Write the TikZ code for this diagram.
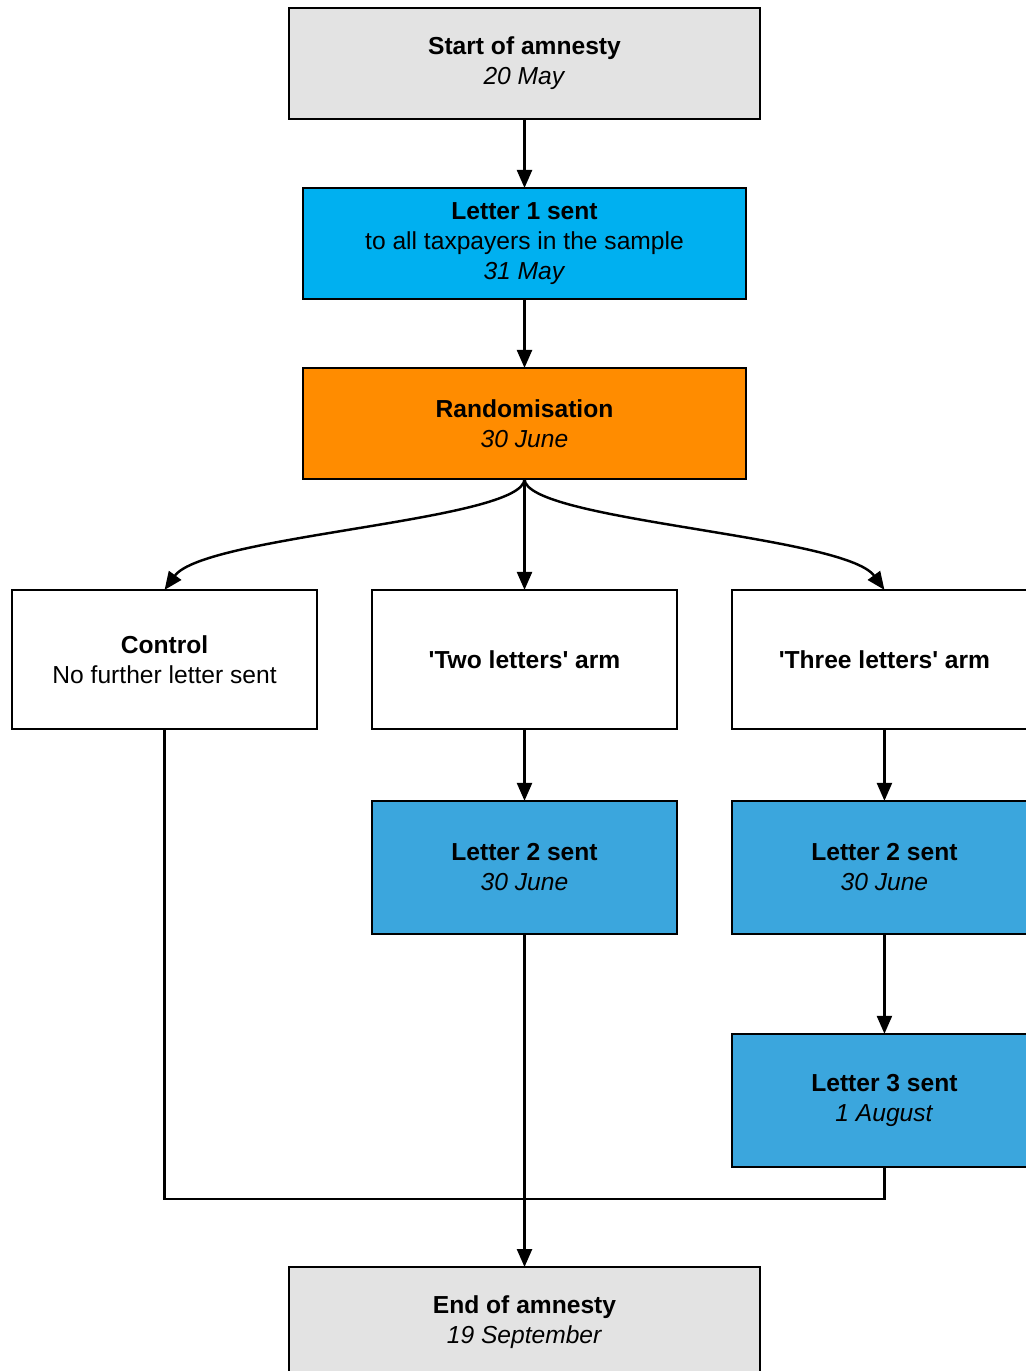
\documentclass[tikz,border=0pt]{standalone}
\usepackage{fontspec}
\setmainfont{Liberation Sans}
\usepackage{tikz}
\usetikzlibrary{positioning,arrows.meta}
\definecolor{amngray}{HTML}{E3E3E3}
\definecolor{firstblue}{HTML}{00B0F0}
\definecolor{randorange}{HTML}{FF8C00}
\definecolor{letterblue}{HTML}{3BA6DD}

\begin{document}
\begin{tikzpicture}[
    x=0.02cm, y=-0.02cm,
    every node/.style={font=\fontsize{14}{17}\selectfont},
    box/.style={draw, line width=1.2pt, align=center, inner sep=0pt, outer sep=0pt},
    wide/.style={box, minimum width=9.42cm, minimum height=2.22cm},
    mid/.style={box, minimum width=8.86cm, minimum height=2.22cm},
    arm/.style={box, fill=white, minimum width=6.1cm, minimum height=2.78cm},
    sent/.style={box, fill=letterblue, minimum width=6.1cm, minimum height=2.66cm},
    arr/.style={-{Triangle[length=0.36cm, width=0.3cm]}, line width=1.4pt},
    line/.style={line width=1.4pt}
]

\useasboundingbox (0,0) rectangle (1026,1371);
\clip (0,0) rectangle (1026,1371);
\fill[white] (0,0) rectangle (1026,1371);

\node[wide, fill=amngray] (start) at (524.5,63.5) {\textbf{Start of amnesty}\\\textit{20 May}};
\node[mid, fill=firstblue, below=1.38cm of start] (first) {\textbf{Letter 1 sent}\\to all taxpayers in the sample\\\textit{31 May}};
\node[mid, fill=randorange, below=1.38cm of first] (rand) {\textbf{Randomisation}\\\textit{30 June}};

\node[arm, below=2.22cm of rand] (two) {\textbf{\textquotesingle Two letters\textquotesingle{} arm}};
\node[arm, left=1.1cm of two] (ctrl) {\textbf{Control}\\No further letter sent};
\node[arm, right=1.1cm of two] (three) {\textbf{\textquotesingle Three letters\textquotesingle{} arm}};

\node[sent, below=1.44cm of two] (twoL2) {\textbf{Letter 2 sent}\\\textit{30 June}};
\node[sent, below=1.44cm of three] (threeL2) {\textbf{Letter 2 sent}\\\textit{30 June}};
\node[sent, below=2cm of threeL2] (threeL3) {\textbf{Letter 3 sent}\\\textit{1 August}};

\node[wide, fill=amngray] (stop) at (524.5,1322.5) {\textbf{End of amnesty}\\\textit{19 September}};

\draw[arr] (start) -- (first);
\draw[arr] (first) -- (rand);
\draw[arr] (rand.south) -- (two.north);
\draw[arr] (rand.south) .. controls +(0,42) and +(40,-55) .. (ctrl.north);
\draw[arr] (rand.south) .. controls +(0,42) and +(-40,-55) .. (three.north);
\draw[arr] (two) -- (twoL2);
\draw[arr] (three) -- (threeL2);
\draw[arr] (threeL2) -- (threeL3);

% control and three-letter arms join the line to the end
\draw[line] (ctrl.south) -- ++(0,470) -| (threeL3.south);
\draw[arr] (twoL2.south) -- (stop.north);

\end{tikzpicture}
\end{document}
